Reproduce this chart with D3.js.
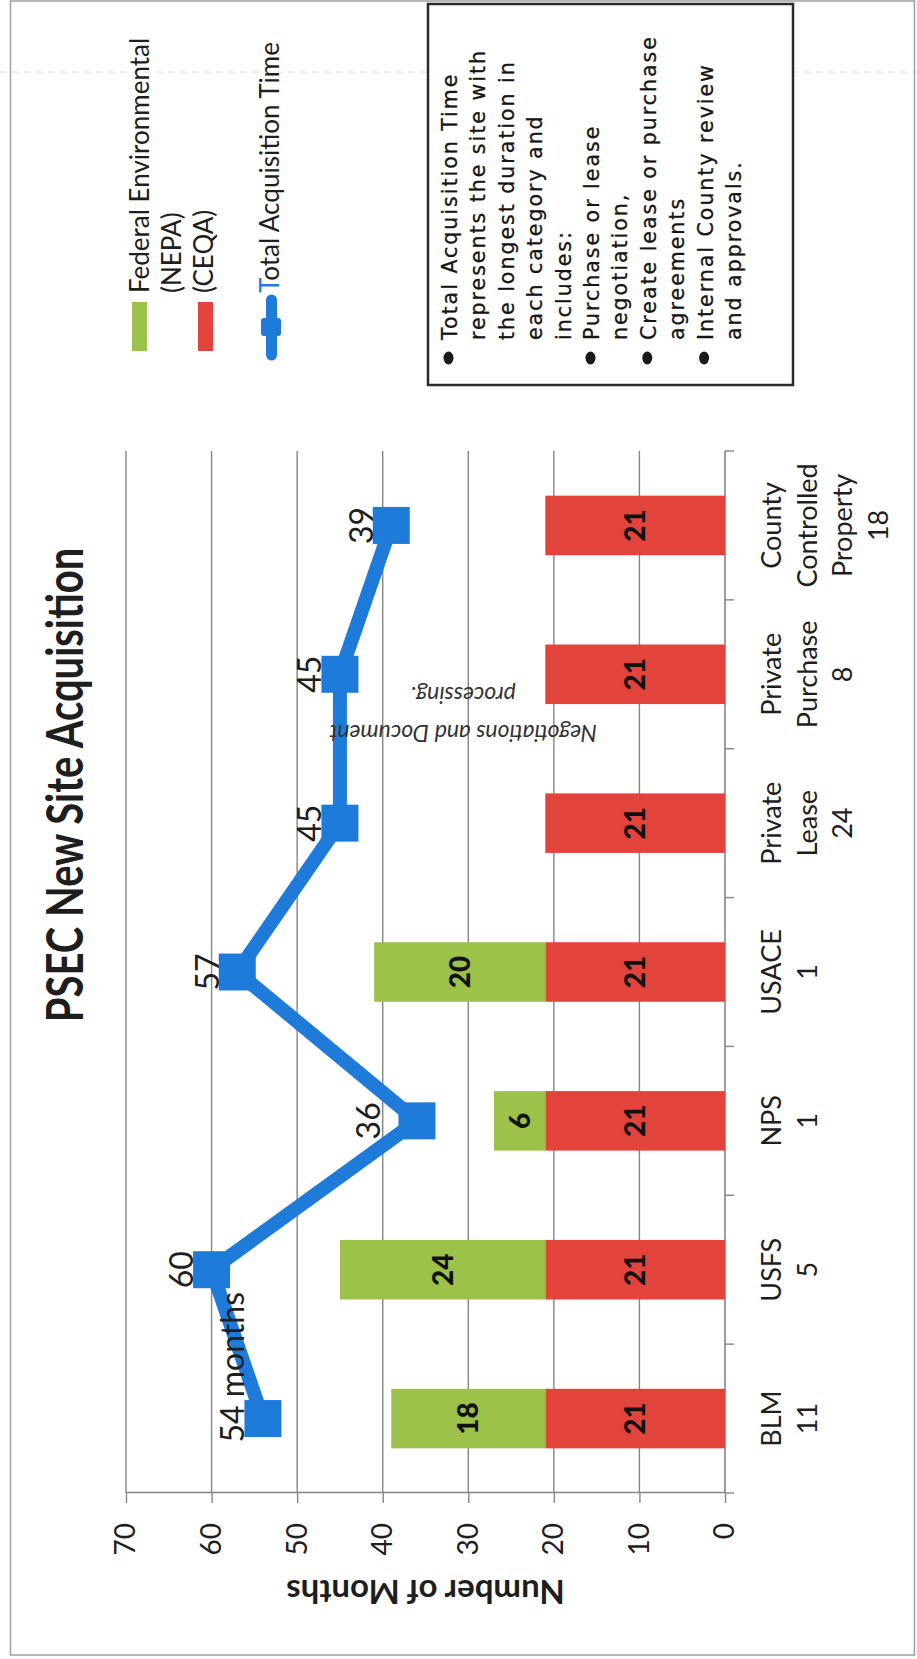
<!DOCTYPE html>
<html>
<head>
<meta charset="utf-8">
<script src="https://cdn.jsdelivr.net/npm/d3@7"></script>
<style>
html,body{margin:0;padding:0;background:#fff;}
svg{display:block;}
</style>
</head>
<body>
<svg id="chart" width="917" height="1659"></svg>
<script>
// ---------- data ----------
const categories = ["BLM", "USFS", "NPS", "USACE", "Private Lease", "Private Purchase", "County Controlled Property"];
const siteCounts = ["11", "5", "1", "1", "24", "8", "18"];
const ceqaMonths = [21, 21, 21, 21, 21, 21, 21];
const nepaMonths = [18, 24, 6, 20, 0, 0, 0];
const totalMonths = [54, 60, 36, 57, 45, 45, 39];
const yTicks = [0, 10, 20, 30, 40, 50, 60, 70];
const titleText = "PSEC New Site Acquisition";
const yTitle = "Number of Months";
const legendNepa = ["Federal Environmental", "(NEPA)"];
const legendCeqa = "(CEQA)";
const legendTotal = "Total Acquisition Time";
const noteLines = [
  {t: "Total Acquisition Time", b: true},
  {t: "represents the site with", b: false},
  {t: "the longest duration in", b: false},
  {t: "each category and", b: false},
  {t: "includes:", b: false},
  {t: "Purchase or lease", b: true},
  {t: "negotiation,", b: false},
  {t: "Create lease or purchase", b: true},
  {t: "agreements", b: false},
  {t: "Internal County review", b: true},
  {t: "and approvals.", b: false}
];
const annotation = ["Negotiations  and Document", "processing."];

// ---------- styles ----------
const RED = "#E2433A", GREEN = "#9CC24A", BLUE = "#1E7BDA";
const GRID = "#858585", TXT = "#1e1e1e";
const FONT = "Lato, 'Open Sans', sans-serif";

const svg = d3.select("#chart");

// page frame and faint scan line
svg.append("rect").attr("x", 10.5).attr("y", 1).attr("width", 904).attr("height", 1654)
  .attr("fill", "none").attr("stroke", "#a0a0a0").attr("stroke-width", 1.5);
svg.append("line").attr("x1", 0).attr("x2", 917).attr("y1", 72).attr("y2", 72)
  .attr("stroke", "#c8c0c0").attr("stroke-width", 1).attr("stroke-dasharray", "7,5").attr("opacity", 0.6);

// rotated chart frame: u along page upward, v along page rightward
const g = svg.append("g").attr("transform", "translate(0,1659) rotate(-90)");

const x = d3.scaleBand().domain(categories).range([166, 1208]).paddingInner(0.6).paddingOuter(0.3);
const y = d3.scaleLinear().domain([0, 70]).range([725, 126]);
const bw = x.bandwidth();
const cx = c => x(c) + bw / 2;

// gridlines
g.append("g").selectAll("line").data(yTicks.filter(d => d > 0)).join("line")
  .attr("x1", x.range()[0]).attr("x2", x.range()[1])
  .attr("y1", d => y(d)).attr("y2", d => y(d))
  .attr("stroke", GRID).attr("stroke-width", 1.4);

// value axis
const yAxis = g.append("g").attr("transform", `translate(${x.range()[0]},0)`)
  .call(d3.axisLeft(y).tickValues(yTicks).tickSize(10).tickSizeOuter(0).tickPadding(20).tickFormat(d3.format("d")));
yAxis.select(".domain").attr("stroke", GRID).attr("stroke-width", 1.6);
yAxis.selectAll(".tick line").attr("stroke", GRID).attr("stroke-width", 1.4);
yAxis.selectAll(".tick text").attr("font-family", FONT).attr("font-size", 28).attr("fill", TXT);

// category axis
const boundaries = d3.range(categories.length + 1).map(i => x.range()[0] + i * x.step());
g.append("line").attr("x1", x.range()[0]).attr("x2", x.range()[1]).attr("y1", y(0)).attr("y2", y(0))
  .attr("stroke", GRID).attr("stroke-width", 1.6);
g.append("g").selectAll("line").data(boundaries).join("line")
  .attr("x1", d => d).attr("x2", d => d).attr("y1", y(0)).attr("y2", y(0) + 9)
  .attr("stroke", GRID).attr("stroke-width", 1.4);

// category labels
const catG = g.append("g").attr("font-family", FONT).attr("font-size", 27).attr("fill", TXT).attr("text-anchor", "middle");
categories.forEach((c, i) => {
  const lines = c.split(" ").concat([siteCounts[i]]);
  const t = catG.append("text").attr("x", cx(c)).attr("y", y(0) + 56);
  lines.forEach((l, k) => t.append("tspan").attr("x", cx(c)).attr("dy", k === 0 ? 0 : 35.5).text(l));
});

// stacked bars
g.append("g").selectAll("rect").data(categories).join("rect")
  .attr("x", c => x(c)).attr("width", bw)
  .attr("y", (c, i) => y(ceqaMonths[i])).attr("height", (c, i) => y(0) - y(ceqaMonths[i]))
  .attr("fill", RED);
g.append("g").selectAll("rect").data(categories.filter((c, i) => nepaMonths[i] > 0)).join("rect")
  .attr("x", c => x(c)).attr("width", bw)
  .attr("y", c => { const i = categories.indexOf(c); return y(ceqaMonths[i] + nepaMonths[i]); })
  .attr("height", c => { const i = categories.indexOf(c); return y(ceqaMonths[i]) - y(ceqaMonths[i] + nepaMonths[i]); })
  .attr("fill", GREEN);

// bar labels
const blG = g.append("g").attr("font-family", FONT).attr("font-weight", 900).attr("font-size", 28)
  .attr("fill", "#111").attr("text-anchor", "middle");
categories.forEach((c, i) => {
  blG.append("text").attr("x", cx(c)).attr("y", y(ceqaMonths[i] / 2)).attr("dy", "0.36em").text(ceqaMonths[i]);
  if (nepaMonths[i] > 0)
    blG.append("text").attr("x", cx(c)).attr("y", y(ceqaMonths[i] + nepaMonths[i] / 2)).attr("dy", "0.36em").text(nepaMonths[i]);
});

// total acquisition time line
const pts = categories.map((c, i) => [cx(c), y(totalMonths[i])]);
g.append("path").attr("d", d3.line()(pts)).attr("fill", "none")
  .attr("stroke", BLUE).attr("stroke-width", 14).attr("stroke-linejoin", "miter");
const MS = 37;
g.append("g").selectAll("rect").data(pts).join("rect")
  .attr("x", d => d[0] - MS / 2).attr("y", d => d[1] - MS / 2)
  .attr("width", MS).attr("height", MS).attr("fill", BLUE);

// line labels
const llG = g.append("g").attr("font-family", FONT).attr("font-size", 32).attr("fill", TXT);
pts.forEach((p, i) => {
  const first = i === 0;
  llG.append("text")
    .attr("x", first ? p[0] - 24 : p[0])
    .attr("y", p[1] - MS / 2 + (totalMonths[i] === 36 ? -18 : 0))
    .attr("text-anchor", first ? "start" : "middle")
    .text(first ? totalMonths[i] + " months" : totalMonths[i]);
});

// title
g.append("text").attr("transform", "translate(874,83) scale(1,1.3)")
  .attr("text-anchor", "middle").attr("font-family", FONT).attr("font-weight", 700)
  .attr("font-size", 40).attr("fill", TXT).text(titleText);

// axis title
g.append("text").attr("transform", `translate(79,${(y(0) + y(70)) / 2}) rotate(-90)`)
  .attr("text-anchor", "middle").attr("font-family", FONT).attr("font-weight", 700)
  .attr("font-size", 33).attr("fill", TXT).text(yTitle);

// legend
const lg = g.append("g").attr("font-family", FONT).attr("font-size", 26).attr("fill", TXT);
lg.append("rect").attr("x", 1308).attr("y", 132).attr("width", 49).attr("height", 15).attr("fill", GREEN);
lg.append("rect").attr("x", 1308).attr("y", 198).attr("width", 49).attr("height", 15).attr("fill", RED);
lg.append("text").attr("x", 1366).attr("y", 149).text(legendNepa[0]);
lg.append("text").attr("x", 1366).attr("y", 181).text(legendNepa[1]);
lg.append("text").attr("x", 1366).attr("y", 213).text(legendCeqa);
lg.append("line").attr("x1", 1304).attr("x2", 1359).attr("y1", 271.5).attr("y2", 271.5)
  .attr("stroke", BLUE).attr("stroke-width", 11).attr("stroke-linecap", "round");
lg.append("rect").attr("x", 1323).attr("y", 261).attr("width", 18).attr("height", 20).attr("rx", 3).attr("fill", BLUE);
const tt = lg.append("text").attr("x", 1366).attr("y", 279);
tt.append("tspan").attr("fill", BLUE).text(legendTotal[0]);
tt.append("tspan").text(legendTotal.slice(1));

// note box
const nb = g.append("g");
nb.append("rect").attr("x", 1274).attr("y", 428).attr("width", 381).attr("height", 365)
  .attr("fill", "#fff").attr("stroke", "#2a2a2a").attr("stroke-width", 2.5);
noteLines.forEach((l, k) => {
  const by = 457 + k * 28.4;
  nb.append("text").attr("x", 1319).attr("y", by)
    .attr("font-family", "'DejaVu Sans', sans-serif").attr("font-size", 20.5)
    .attr("letter-spacing", 2).attr("fill", "#151515").attr("stroke", "#151515").attr("stroke-width", 0.3)
    .text(l.t);
  if (l.b) nb.append("ellipse").attr("cx", 1301).attr("cy", by - 8.5).attr("rx", 6.5).attr("ry", 5).attr("fill", "#1a1a1a");
});

// annotation (upside down in the page)
const an = svg.append("g").attr("font-family", FONT).attr("font-style", "italic")
  .attr("font-size", 23).attr("fill", "#333").attr("text-anchor", "middle");
an.append("text").attr("transform", "translate(463,733) rotate(180)").attr("dy", "0.35em").text(annotation[0]);
an.append("text").attr("transform", "translate(463,695) rotate(180)").attr("dy", "0.35em").text(annotation[1]);
</script>
</body>
</html>
